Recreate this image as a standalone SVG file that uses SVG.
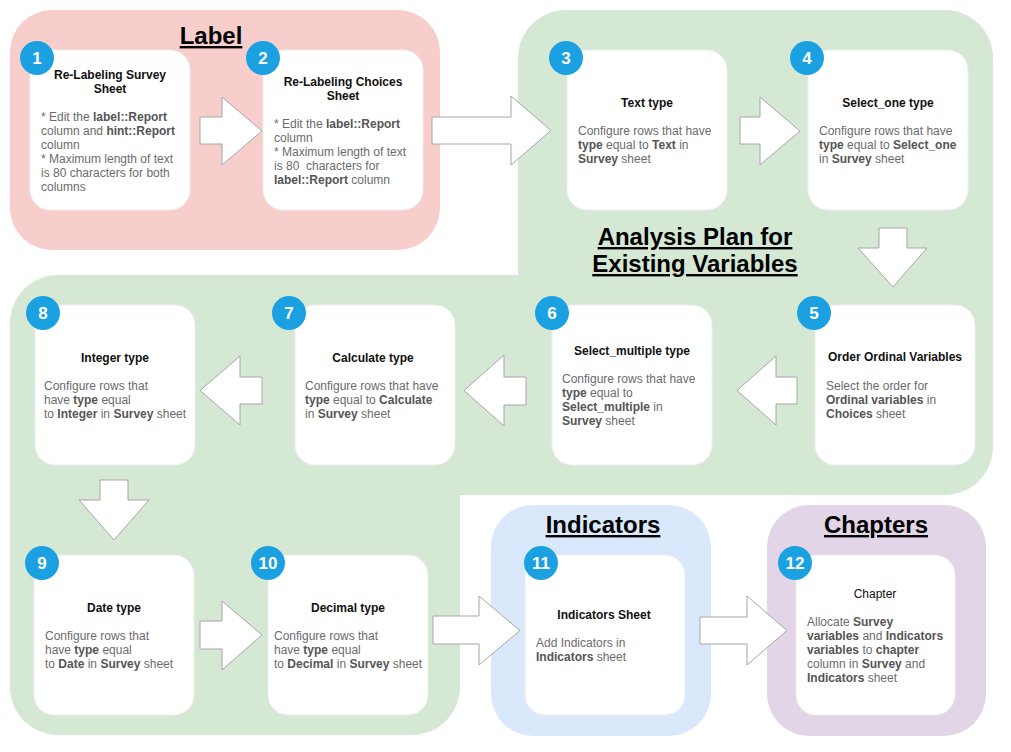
<svg xmlns="http://www.w3.org/2000/svg" width="1011" height="752" viewBox="0 0 1011 752">
<style>
.h{font-family:"Liberation Sans",Arial,sans-serif;font-size:24px;font-weight:bold;fill:#000;text-anchor:middle;text-decoration:underline}
.t{font-family:"Liberation Sans",Arial,sans-serif;font-size:12px;font-weight:bold;fill:#111;text-anchor:middle}
.tn{font-family:"Liberation Sans",Arial,sans-serif;font-size:12px;fill:#111;text-anchor:middle}
.b{font-family:"Liberation Sans",Arial,sans-serif;font-size:12px;fill:#6b6b6b}
.k{font-weight:bold;fill:#555}
.card{fill:#fff;stroke:#eeeeee;stroke-width:1}
.badge{fill:#1ba1e2}
.num{font-family:"Liberation Sans",Arial,sans-serif;font-size:17px;font-weight:bold;fill:#fff;text-anchor:middle}
.arr{fill:#fff;stroke:#a6a6a6;stroke-width:1}
</style>
<rect width="1011" height="752" fill="#fff"/>
<g id="groups">
<rect id="label-group" x="10" y="10" width="430" height="240" rx="42" fill="#f8cecc"/>
<path id="analysis-group" fill="#d5e8d4" d="M566,10 H945 A48,48 0 0 1 993,58 V447 A48,48 0 0 1 945,495 H460 V687 A48,48 0 0 1 412,735 H58 A48,48 0 0 1 10,687 V323 A48,48 0 0 1 58,275 H518 V58 A48,48 0 0 1 566,10 Z"/>
<rect id="indicators-group" x="491" y="505" width="220" height="231" rx="42" fill="#dae8fc"/>
<rect id="chapters-group" x="767" y="505" width="219" height="231" rx="42" fill="#e1d5e7"/>
<text class="h" x="211" y="44">Label</text>
<text class="h" x="695" y="245">Analysis Plan for</text>
<text class="h" x="695" y="272">Existing Variables</text>
<text class="h" x="603" y="533">Indicators</text>
<text class="h" x="876" y="533">Chapters</text>
</g>
<g id="connectors">
<polygon class="arr" points="200,117 222,117 222,97 262,131 222,165 222,144 200,144"/>
<polygon class="arr" points="432,117 511,117 511,96 551,130.5 511,165 511,144 432,144"/>
<polygon class="arr" points="740,117 760,117 760,97 800,131 760,165 760,144 740,144"/>
<polygon class="arr" points="879,228 907,228 907,248 927,248 893,287 858,248 879,248"/>
<polygon class="arr" points="797,377 776,377 776,356 737,390.5 776,425 776,404 797,404"/>
<polygon class="arr" points="526,377 504,377 504,355 464,390.5 504,426 504,405 526,405"/>
<polygon class="arr" points="262,377 240,377 240,356 200,390.5 240,425 240,404 262,404"/>
<polygon class="arr" points="100,480 128,480 128,500 149,500 114,540 79,500 100,500"/>
<polygon class="arr" points="200,621 222,621 222,601 262,635 222,670 222,649 200,649"/>
<polygon class="arr" points="433,616 479,616 479,596 520,630.5 479,665 479,644 433,644"/>
<polygon class="arr" points="700,617 747,617 747,596 787,630.5 747,665 747,644 700,644"/>
</g>
<g id="node1">
<rect class="card" x="30" y="50" width="160" height="160" rx="20"/>
<text class="t" x="110" y="79">Re-Labeling Survey</text>
<text class="t" x="110" y="93">Sheet</text>
<text class="b" x="41" y="121">* Edit the <tspan class="k">label::Report</tspan></text>
<text class="b" x="41" y="135">column and <tspan class="k">hint::Report</tspan></text>
<text class="b" x="41" y="149">column</text>
<text class="b" x="41" y="163">* Maximum length of text</text>
<text class="b" x="41" y="177">is 80 characters for both</text>
<text class="b" x="41" y="191">columns</text>
<circle class="badge" cx="37" cy="58" r="17"/>
<text class="num" x="37" y="64">1</text>
</g>
<g id="node2">
<rect class="card" x="263" y="50" width="160" height="160" rx="20"/>
<text class="t" x="343" y="86">Re-Labeling Choices</text>
<text class="t" x="343" y="100">Sheet</text>
<text class="b" x="274" y="128">* Edit the <tspan class="k">label::Report</tspan></text>
<text class="b" x="274" y="142">column</text>
<text class="b" x="274" y="156">* Maximum length of text</text>
<text class="b" x="274" y="170" xml:space="preserve">is 80  characters for</text>
<text class="b" x="274" y="184"><tspan class="k">label::Report</tspan> column</text>
<circle class="badge" cx="263" cy="58" r="17"/>
<text class="num" x="263" y="64">2</text>
</g>
<g id="node3">
<rect class="card" x="567" y="50" width="160" height="160" rx="20"/>
<text class="t" x="647" y="107">Text type</text>
<text class="b" x="578" y="135">Configure rows that have</text>
<text class="b" x="578" y="149"><tspan class="k">type</tspan> equal to <tspan class="k">Text</tspan> in</text>
<text class="b" x="578" y="163"><tspan class="k">Survey</tspan> sheet</text>
<circle class="badge" cx="566" cy="58" r="17"/>
<text class="num" x="566" y="64">3</text>
</g>
<g id="node4">
<rect class="card" x="808" y="50" width="160" height="160" rx="20"/>
<text class="t" x="888" y="107">Select_one type</text>
<text class="b" x="819" y="135">Configure rows that have</text>
<text class="b" x="819" y="149"><tspan class="k">type</tspan> equal to <tspan class="k">Select_one</tspan></text>
<text class="b" x="819" y="163">in <tspan class="k">Survey</tspan> sheet</text>
<circle class="badge" cx="807" cy="58" r="17"/>
<text class="num" x="807" y="64">4</text>
</g>
<g id="node5">
<rect class="card" x="815" y="305" width="160" height="160" rx="20"/>
<text class="t" x="895" y="361">Order Ordinal Variables</text>
<text class="b" x="826" y="390">Select the order for</text>
<text class="b" x="826" y="404"><tspan class="k">Ordinal variables</tspan> in</text>
<text class="b" x="826" y="418"><tspan class="k">Choices</tspan> sheet</text>
<circle class="badge" cx="814" cy="313" r="17"/>
<text class="num" x="814" y="319">5</text>
</g>
<g id="node6">
<rect class="card" x="552" y="305" width="160" height="160" rx="20"/>
<text class="t" x="632" y="355">Select_multiple type</text>
<text class="b" x="562" y="383">Configure rows that have</text>
<text class="b" x="562" y="397"><tspan class="k">type</tspan> equal to</text>
<text class="b" x="562" y="411"><tspan class="k">Select_multiple</tspan> in</text>
<text class="b" x="562" y="425"><tspan class="k">Survey</tspan> sheet</text>
<circle class="badge" cx="552" cy="313" r="17"/>
<text class="num" x="552" y="319">6</text>
</g>
<g id="node7">
<rect class="card" x="295" y="305" width="160" height="160" rx="20"/>
<text class="t" x="373" y="362">Calculate type</text>
<text class="b" x="305" y="390">Configure rows that have</text>
<text class="b" x="305" y="404"><tspan class="k">type</tspan> equal to <tspan class="k">Calculate</tspan></text>
<text class="b" x="305" y="418">in <tspan class="k">Survey</tspan> sheet</text>
<circle class="badge" cx="289" cy="313" r="17"/>
<text class="num" x="289" y="319">7</text>
</g>
<g id="node8">
<rect class="card" x="35" y="305" width="160" height="160" rx="20"/>
<text class="t" x="115" y="362">Integer type</text>
<text class="b" x="44" y="390">Configure rows that</text>
<text class="b" x="44" y="404">have <tspan class="k">type</tspan> equal</text>
<text class="b" x="44" y="418">to <tspan class="k">Integer</tspan> in <tspan class="k">Survey</tspan> sheet</text>
<circle class="badge" cx="43" cy="313" r="17"/>
<text class="num" x="43" y="319">8</text>
</g>
<g id="node9">
<rect class="card" x="34" y="555" width="160" height="160" rx="20"/>
<text class="t" x="114" y="612">Date type</text>
<text class="b" x="45" y="640">Configure rows that</text>
<text class="b" x="45" y="654">have <tspan class="k">type</tspan> equal</text>
<text class="b" x="45" y="668">to <tspan class="k">Date</tspan> in <tspan class="k">Survey</tspan> sheet</text>
<circle class="badge" cx="42" cy="563" r="17"/>
<text class="num" x="42" y="569">9</text>
</g>
<g id="node10">
<rect class="card" x="268" y="555" width="160" height="160" rx="20"/>
<text class="t" x="348" y="612">Decimal type</text>
<text class="b" x="274" y="640">Configure rows that</text>
<text class="b" x="274" y="654">have <tspan class="k">type</tspan> equal</text>
<text class="b" x="274" y="668">to <tspan class="k">Decimal</tspan> in <tspan class="k">Survey</tspan> sheet</text>
<circle class="badge" cx="268" cy="563" r="17"/>
<text class="num" x="268" y="569">10</text>
</g>
<g id="node11">
<rect class="card" x="525" y="555" width="160" height="160" rx="20"/>
<text class="t" x="604" y="619">Indicators Sheet</text>
<text class="b" x="536" y="647">Add Indicators in</text>
<text class="b" x="536" y="661"><tspan class="k">Indicators</tspan> sheet</text>
<circle class="badge" cx="541" cy="563" r="17"/>
<text class="num" x="541" y="569">11</text>
</g>
<g id="node12">
<rect class="card" x="796" y="555" width="159" height="160" rx="20"/>
<text class="tn" x="875" y="598">Chapter</text>
<text class="b" x="807" y="626">Allocate <tspan class="k">Survey</tspan></text>
<text class="b" x="807" y="640"><tspan class="k">variables</tspan> and <tspan class="k">Indicators</tspan></text>
<text class="b" x="807" y="654"><tspan class="k">variables</tspan> to <tspan class="k">chapter</tspan></text>
<text class="b" x="807" y="668">column in <tspan class="k">Survey</tspan> and</text>
<text class="b" x="807" y="682"><tspan class="k">Indicators</tspan> sheet</text>
<circle class="badge" cx="795" cy="563" r="17"/>
<text class="num" x="795" y="569">12</text>
</g>
</svg>
